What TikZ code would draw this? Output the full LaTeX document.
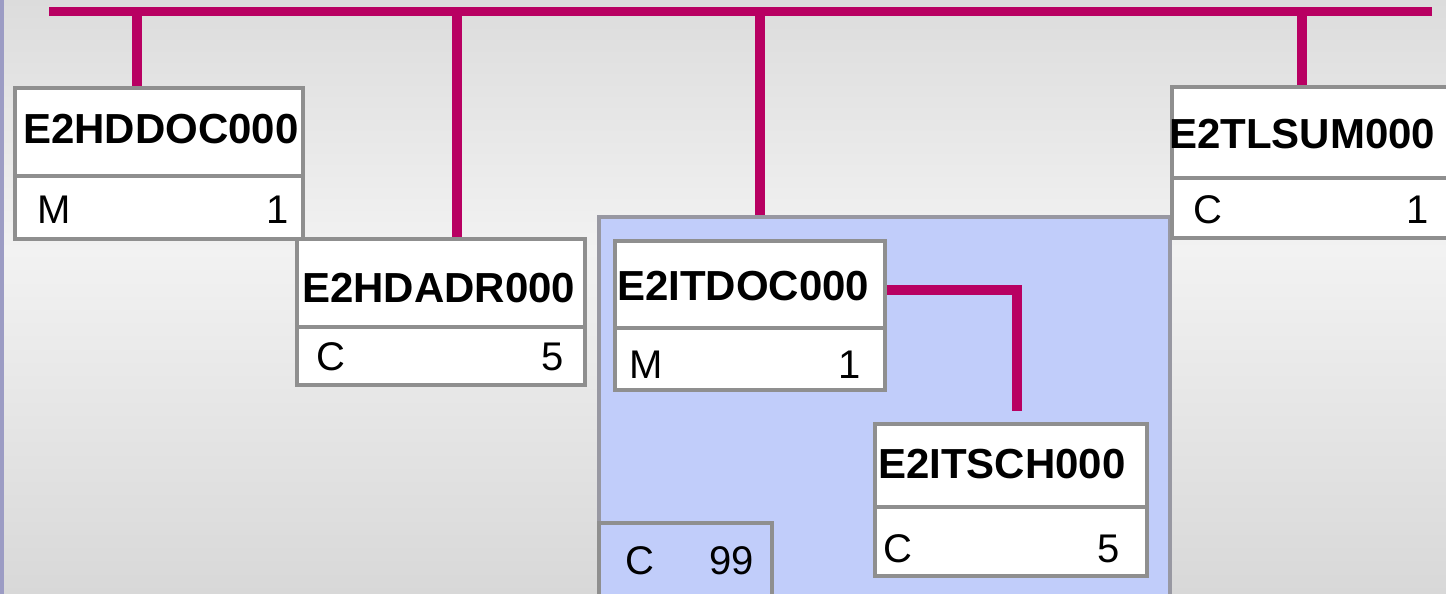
\documentclass[tikz,border=0pt]{standalone}
\usepackage{fontspec}
\setmainfont{Liberation Sans}
\definecolor{linkc}{RGB}{184,0,98}
\definecolor{framec}{RGB}{143,143,143}
\definecolor{grpfill}{RGB}{193,205,250}
\definecolor{grpframe}{RGB}{152,152,162}
\definecolor{bgtop}{RGB}{220,220,220}
\definecolor{bgmid}{RGB}{242,242,242}
\definecolor{bgbot}{RGB}{216,216,216}
\definecolor{edgec}{RGB}{156,156,196}
\begin{document}
\begin{tikzpicture}[x=1pt,y=-1pt,
  link/.style={draw=linkc, line width=9.5pt},
  segbox/.style={draw=framec, fill=white, line width=4pt, rectangle, inner sep=0pt, anchor=north west},
  grpbox/.style={draw=grpframe, fill=grpfill, line width=4pt, rectangle, inner sep=0pt, anchor=north west},
  rule/.style={draw=framec, line width=4pt},
  ttl/.style={font=\fontsize{42}{42}\selectfont\bfseries, inner sep=0pt, anchor=base west},
  cellL/.style={font=\fontsize{40}{40}\selectfont, inner sep=0pt, anchor=base west},
  cellR/.style={font=\fontsize{40}{40}\selectfont, inner sep=0pt, anchor=base east}]

% page and background
\useasboundingbox (0,0) rectangle (1446,594);
\clip (0,0) rectangle (1446,594);
\shade[top color=bgtop, bottom color=bgmid] (0,0) rectangle (1446,250);
\shade[top color=bgmid, bottom color=bgbot] (0,250) rectangle (1446,594);
\fill[edgec] (0,0) rectangle (4,594);

% segment group (loop) area
\node[grpbox, minimum width=571pt, minimum height=400pt] (grp) at (597,215) {};
\node[grpbox, draw=framec, minimum width=173pt, minimum height=100pt] (loopcnt) at (597,521) {};
\node[cellL] (loopc) at (625,574) {C};
\node[cellR] (loopn) at (754,574) {99};

% segments
\node[segbox, minimum width=288pt, minimum height=151pt] (hddoc) at (13,86) {};
\draw[rule] (hddoc.west |- 0,175.5) -- (hddoc.east |- 0,175.5);
\node[ttl] (hddocT) at (23,143) {E2HDDOC000};
\node[cellL] (hddocS) at (37,223) {M};
\node[cellR] (hddocN) at (289,223) {1};

\node[segbox, minimum width=288pt, minimum height=146pt] (hdadr) at (295,237) {};
\draw[rule] (hdadr.west |- 0,326.5) -- (hdadr.east |- 0,326.5);
\node[ttl] (hdadrT) at (302,302) {E2HDADR000};
\node[cellL] (hdadrS) at (316,370) {C};
\node[cellR] (hdadrN) at (563.5,370) {5};

\node[segbox, minimum width=270pt, minimum height=149pt] (itdoc) at (613,239) {};
\draw[rule] (itdoc.west |- 0,328) -- (itdoc.east |- 0,328);
\node[ttl] (itdocT) at (617,300) {E2ITDOC000};
\node[cellL] (itdocS) at (629,378) {M};
\node[cellR] (itdocN) at (861,378) {1};

\node[segbox, minimum width=272pt, minimum height=152pt] (itsch) at (873,422) {};
\draw[rule] (itsch.west |- 0,507) -- (itsch.east |- 0,507);
\node[ttl] (itschT) at (878,478) {E2ITSCH000};
\node[cellL] (itschS) at (883,562) {C};
\node[cellR] (itschN) at (1120,562) {5};

\node[segbox, minimum width=300pt, minimum height=151pt] (tlsum) at (1170,85) {};
\draw[rule] (tlsum.west |- 0,178) -- (tlsum.east |- 0,178);
\node[ttl] (tlsumT) at (1169,148) {E2TLSUM000};
\node[cellL] (tlsumS) at (1193,223) {C};
\node[cellR] (tlsumN) at (1429,223) {1};

% hierarchy bus and branches
\coordinate (busL) at (49,11.5);
\coordinate (busR) at (1432,11.5);
\coordinate (b1) at (137,11.5);
\coordinate (b2) at (457,11.5);
\coordinate (b3) at (760,11.5);
\coordinate (b4) at (1302,11.5);
\draw[link] (busL) -- (busR);
\draw[link] (b1) -- (b1 |- hddoc.north);
\draw[link] (b2) -- (b2 |- hdadr.north);
\draw[link] (b3) -- (b3 |- grp.north);
\draw[link] (b4) -- (b4 |- tlsum.north);
\draw[link, shorten >=11pt] ([yshift=-51pt]itdoc.north east) -| ([xshift=6pt]itsch.north);
\end{tikzpicture}
\end{document}
